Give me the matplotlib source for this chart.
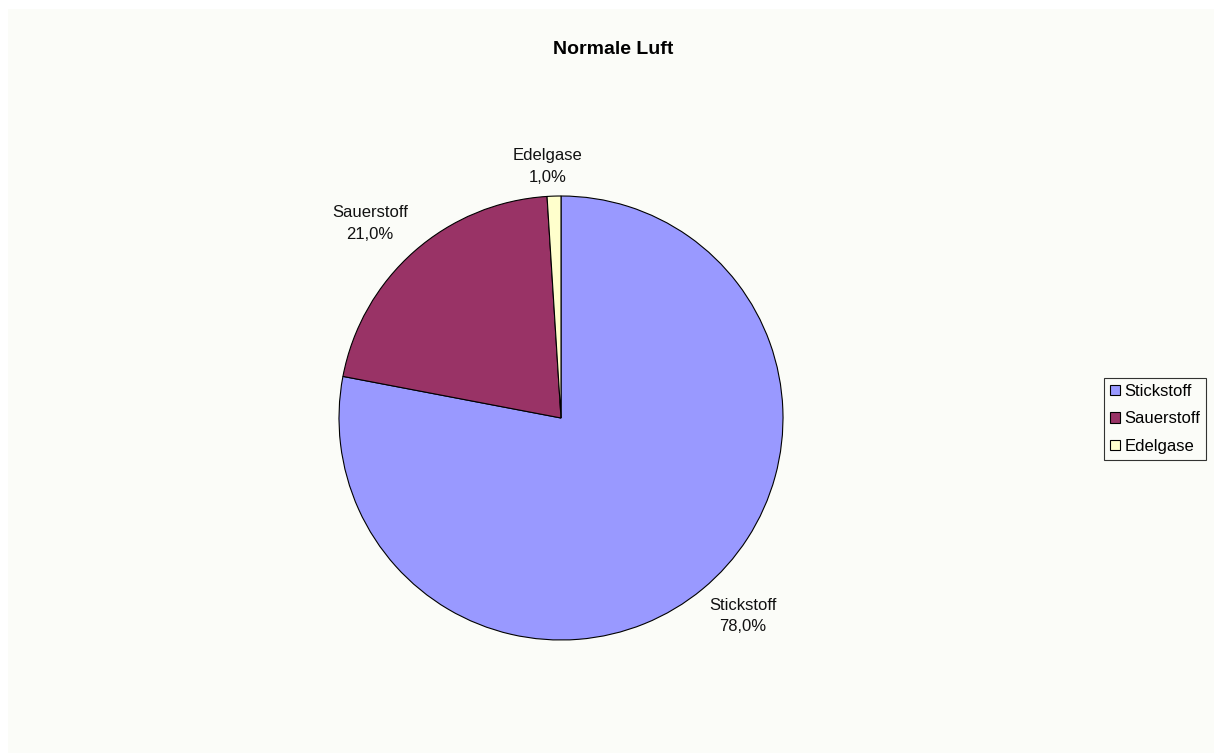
import matplotlib
matplotlib.use("Agg")
import matplotlib.pyplot as plt
from matplotlib.patches import Rectangle
import numpy as np

# ---- Data ------------------------------------------------------------------
labels = ["Stickstoff", "Sauerstoff", "Edelgase"]
shares = [78.0, 21.0, 1.0]
colors = ["#9999FF", "#993366", "#FFFFCC"]
title = "Normale Luft"

W, H = 1214, 753
plt.rcParams["font.family"] = ["Liberation Sans", "DejaVu Sans"]

fig = plt.figure(figsize=(W / 100, H / 100), dpi=100, facecolor="white")
# chart area (slightly off-white, small white margin top/left)
fig.patches.append(Rectangle((8 / W, 0), 1 - 8 / W, 1 - 9 / H,
                             transform=fig.transFigure, facecolor="#FBFCF8",
                             edgecolor="none", zorder=-1))

# pie centre (561, 418), radius 222 px
cx, cy, r = 561, 418, 222
ax = fig.add_axes([(cx - r) / W, (H - cy - r) / H, 2 * r / W, 2 * r / H])
ax.set_facecolor("none")
wedges, _ = ax.pie(shares, colors=colors, startangle=90, counterclock=False,
                   wedgeprops=dict(edgecolor="black", linewidth=0.8),
                   radius=1.0)
ax.set_xlim(-1, 1)
ax.set_ylim(-1, 1)
ax.set_aspect("equal")
ax.axis("off")

# data labels: offset (points) from the wedge's outer edge midpoint
label_offsets = [(29, -19.5), (-32, 20), (-4.5, 21.5)]
for w, lab, val, off in zip(wedges, labels, shares, label_offsets):
    mid = np.deg2rad((w.theta1 + w.theta2) / 2)
    txt = f"{lab}\n{val:.1f}%".replace(".", ",")
    ax.annotate(txt, xy=(np.cos(mid), np.sin(mid)), xytext=off,
                textcoords="offset points", ha="center", va="center",
                fontsize=12, linespacing=1.55, color="#111111",
                annotation_clip=False)

fig.text(613 / W, 1 - 49 / H, title, ha="center", va="center",
         fontsize=14, fontweight="bold")

leg = fig.legend(wedges, labels, loc="center", bbox_to_anchor=(1155 / W, 1 - 419 / H),
                 fontsize=12, frameon=True, fancybox=False, handlelength=0.6,
                 handleheight=0.6, handletextpad=0.25, borderpad=0.35,
                 labelspacing=0.75, borderaxespad=0)
leg.get_frame().set_edgecolor("black")
leg.get_frame().set_linewidth(0.8)
leg.get_frame().set_facecolor("#FBFCF8")

fig.savefig("out.png", dpi=100, facecolor=fig.get_facecolor())
